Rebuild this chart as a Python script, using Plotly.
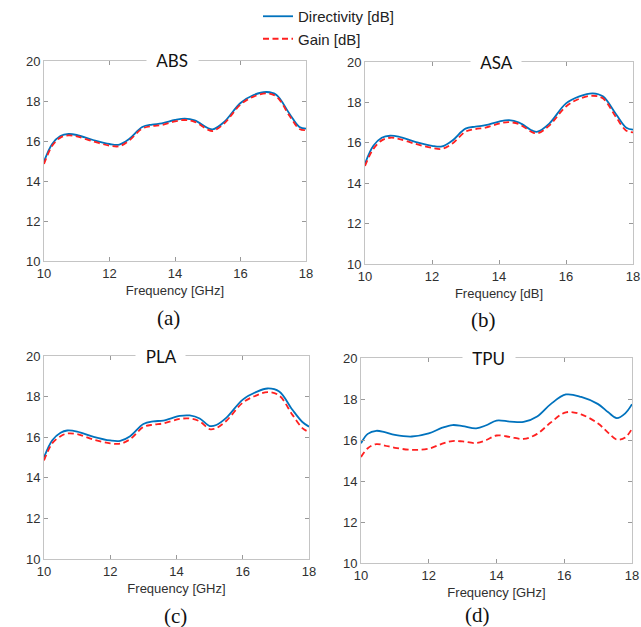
import plotly.graph_objects as go

# ---------------- data ----------------
f_std = [10, 10.25, 10.5, 10.75, 11, 11.5, 12, 12.3, 12.6, 13, 13.3, 13.6, 14, 14.3, 14.6, 15, 15.15, 15.5, 16, 16.4, 16.8, 17.1, 17.5, 17.8, 18]

dir_abs = [14.97, 15.85, 16.25, 16.35, 16.3, 16.05, 15.85, 15.82, 16.1, 16.7, 16.82, 16.88, 17.05, 17.12, 17.03, 16.65, 16.58, 16.95, 17.9, 18.3, 18.45, 18.3, 17.35, 16.7, 16.62]
gain_abs = [14.85, 15.76, 16.17, 16.28, 16.23, 15.98, 15.77, 15.74, 16.02, 16.62, 16.75, 16.8, 16.98, 17.05, 16.96, 16.57, 16.5, 16.87, 17.82, 18.22, 18.38, 18.22, 17.25, 16.6, 16.55]

dir_asa = [14.97, 15.85, 16.25, 16.35, 16.3, 16.05, 15.85, 15.82, 16.1, 16.7, 16.8, 16.87, 17.05, 17.12, 17.0, 16.6, 16.55, 16.95, 17.95, 18.3, 18.45, 18.3, 17.4, 16.75, 16.65]
gain_asa = [14.85, 15.7, 16.12, 16.25, 16.2, 15.95, 15.75, 15.7, 15.95, 16.55, 16.68, 16.75, 16.95, 17.02, 16.92, 16.52, 16.47, 16.85, 17.8, 18.18, 18.33, 18.2, 17.25, 16.6, 16.52]

f_pla = [10, 10.25, 10.5, 10.7, 11, 11.5, 12, 12.3, 12.6, 13, 13.3, 13.6, 14.1, 14.4, 14.7, 15.0, 15.2, 15.5, 16, 16.4, 16.75, 17.1, 17.5, 17.8, 18]
dir_pla = [15.0, 15.85, 16.22, 16.33, 16.28, 16.02, 15.84, 15.82, 16.05, 16.65, 16.78, 16.82, 17.05, 17.07, 16.92, 16.55, 16.6, 16.95, 17.85, 18.22, 18.4, 18.25, 17.35, 16.75, 16.52]
gain_pla = [14.85, 15.7, 16.05, 16.18, 16.15, 15.88, 15.7, 15.68, 15.9, 16.5, 16.62, 16.68, 16.9, 16.92, 16.78, 16.4, 16.45, 16.8, 17.7, 18.05, 18.22, 18.05, 17.1, 16.45, 16.25]

f_tpu = [10, 10.2, 10.45, 10.7, 11, 11.5, 12, 12.4, 12.7, 13, 13.4, 13.7, 14, 14.4, 14.8, 15.2, 15.6, 16.05, 16.5, 17, 17.3, 17.55, 17.8, 18]
dir_tpu = [15.84, 16.3, 16.45, 16.38, 16.25, 16.17, 16.32, 16.6, 16.73, 16.68, 16.57, 16.72, 16.95, 16.9, 16.88, 17.15, 17.75, 18.22, 18.1, 17.75, 17.35, 17.07, 17.3, 17.75]
gain_tpu = [15.17, 15.6, 15.8, 15.73, 15.62, 15.52, 15.58, 15.82, 15.95, 15.93, 15.85, 16.0, 16.22, 16.15, 16.05, 16.3, 16.85, 17.35, 17.25, 16.8, 16.35, 16.02, 16.12, 16.55]

titles = ["ABS", "ASA", "PLA", "TPU"]
xlabels = ["Frequency [GHz]", "Frequency [dB]", "Frequency [GHz]", "Frequency [GHz]"]
captions = ["(a)", "(b)", "(c)", "(d)"]
x_ticks = [10, 12, 14, 16, 18]
y_ticks = [10, 12, 14, 16, 18, 20]

panels = [
    (f_std, dir_abs, gain_abs),
    (f_std, dir_asa, gain_asa),
    (f_pla, dir_pla, gain_pla),
    (f_tpu, dir_tpu, gain_tpu),
]

W, H = 641, 627
# pixel boxes: left, right, top, bottom
boxes = [
    (44, 306, 61, 261),
    (365, 633, 62, 264),
    (44, 309, 356, 559),
    (361, 632, 358, 563),
]
title_x = [172, 496, 160, 489]
caption_pos = [(169, 318), (483, 320), (175, 616), (477, 615)]

BLUE = "#0072BD"
RED = "#FF2020"
AXC = "#c4c4c4"
TXT = "#303030"
PAD = "&nbsp;&nbsp;"

fig = go.Figure()
layout = dict(
    width=W, height=H,
    margin=dict(l=0, r=0, t=0, b=0, autoexpand=False),
    paper_bgcolor="white", plot_bgcolor="white",
    showlegend=True,
    legend=dict(x=258 / W, y=1, xanchor="left", yanchor="top",
                font=dict(family="Liberation Sans, Arial", size=15, color="#222"),
                bgcolor="rgba(0,0,0,0)", itemwidth=30, tracegroupgap=0),
)
annotations = []

for i, (fx, d, g) in enumerate(panels):
    l, r, t, b = boxes[i]
    xa = "xaxis" if i == 0 else f"xaxis{i+1}"
    ya = "yaxis" if i == 0 else f"yaxis{i+1}"
    xr = "x" if i == 0 else f"x{i+1}"
    yr = "y" if i == 0 else f"y{i+1}"
    fig.add_trace(go.Scatter(x=fx, y=d, mode="lines", name="Directivity [dB]",
                             line=dict(color=BLUE, width=1.8, shape="spline", smoothing=1.0),
                             xaxis=xr, yaxis=yr, showlegend=(i == 0)))
    fig.add_trace(go.Scatter(x=fx, y=g, mode="lines", name="Gain [dB]",
                             line=dict(color=RED, width=1.8, dash="6px,3.5px", shape="spline", smoothing=1.0),
                             xaxis=xr, yaxis=yr, showlegend=(i == 0)))
    layout[xa] = dict(domain=[l / W, r / W], anchor=yr, range=[10, 18],
                      tickvals=x_ticks, showline=True, mirror="ticks", linecolor=AXC,
                      linewidth=1, ticks="inside", ticklen=4, tickcolor="#999",
                      showgrid=False, zeroline=False,
                      tickfont=dict(family="Liberation Sans, Arial", size=13, color=TXT),
                      title=dict(text=xlabels[i], standoff=6,
                                 font=dict(family="Liberation Sans, Arial", size=13, color=TXT)))
    layout[ya] = dict(domain=[1 - b / H, 1 - t / H], anchor=xr, range=[10, 20],
                      tickvals=y_ticks, showline=True, mirror="ticks", linecolor=AXC,
                      linewidth=1, ticks="inside", ticklen=4, tickcolor="#999",
                      showgrid=False, zeroline=False,
                      tickfont=dict(family="Liberation Sans, Arial", size=13, color=TXT))
    annotations.append(dict(x=title_x[i] / W, y=1 - t / H, xref="paper", yref="paper",
                            text=PAD + titles[i] + PAD, showarrow=False, xanchor="center", yanchor="middle",
                            bgcolor="white", borderpad=1,
                            font=dict(family="Lato, Liberation Sans", size=17, color="#111")))
    cx, cy = caption_pos[i]
    annotations.append(dict(x=cx / W, y=1 - cy / H, xref="paper", yref="paper",
                            text=captions[i], showarrow=False, xanchor="center", yanchor="middle",
                            font=dict(family="Liberation Serif, Times New Roman", size=21, color="#111")))

layout["annotations"] = annotations
fig.update_layout(**layout)
fig.write_html("out.html")
